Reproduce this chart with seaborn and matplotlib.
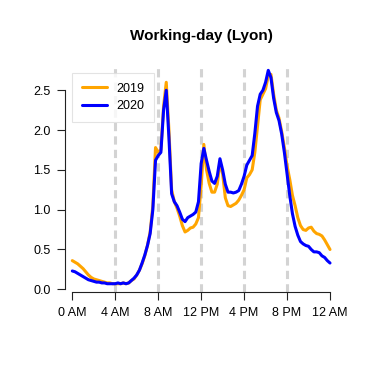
# Import Libraries

import numpy as np
import pandas as pd
import matplotlib
matplotlib.use("Agg")
import matplotlib.pyplot as plt
import seaborn as sns


# Data (15-minute steps)

hours = np.arange(0, 24.01, 0.25)

values_2019 = [
    0.36, 0.34, 0.32, 0.29, 0.26, 0.22, 0.18, 0.15,
    0.13, 0.12, 0.11, 0.10, 0.09, 0.08, 0.08, 0.07,
    0.07, 0.07, 0.07, 0.08, 0.07, 0.08, 0.11, 0.13,
    0.18, 0.24, 0.32, 0.42, 0.55, 0.72, 1.05, 1.78,
    1.72, 1.75, 2.30, 2.60, 2.00, 1.25, 1.10, 1.02,
    0.92, 0.80, 0.72, 0.74, 0.77, 0.78, 0.82, 0.90,
    1.30, 1.82, 1.50, 1.33, 1.22, 1.22, 1.32, 1.60,
    1.45, 1.15, 1.05, 1.04, 1.06, 1.08, 1.12, 1.18,
    1.25, 1.40, 1.44, 1.50, 1.72, 2.05, 2.38, 2.45,
    2.52, 2.68, 2.70, 2.45, 2.25, 2.15, 1.98, 1.78,
    1.55, 1.38, 1.18, 1.05, 0.90, 0.80, 0.75, 0.74,
    0.77, 0.78, 0.73, 0.70, 0.69, 0.67, 0.62, 0.56,
    0.50,
]

values_2020 = [
    0.23, 0.22, 0.20, 0.18, 0.16, 0.14, 0.12, 0.11,
    0.10, 0.09, 0.09, 0.08, 0.08, 0.07, 0.07, 0.07,
    0.07, 0.08, 0.07, 0.08, 0.07, 0.08, 0.11, 0.14,
    0.18, 0.24, 0.33, 0.43, 0.55, 0.70, 1.00, 1.62,
    1.68, 1.72, 2.25, 2.50, 1.90, 1.20, 1.10, 1.05,
    0.97, 0.88, 0.85, 0.90, 0.92, 0.94, 0.97, 1.10,
    1.58, 1.77, 1.62, 1.48, 1.36, 1.33, 1.42, 1.64,
    1.50, 1.32, 1.22, 1.22, 1.21, 1.22, 1.24, 1.32,
    1.42, 1.56, 1.62, 1.68, 1.96, 2.30, 2.45, 2.50,
    2.60, 2.75, 2.66, 2.40, 2.22, 2.12, 1.95, 1.72,
    1.45, 1.18, 0.95, 0.79, 0.68, 0.60, 0.57, 0.55,
    0.54, 0.50, 0.47, 0.47, 0.46, 0.42, 0.40, 0.36,
    0.33,
]

years = ["2019", "2020"]
colors = ["#FFA500", "#0000FF"]

x_ticks = [0, 4, 8, 12, 16, 20, 24]
x_labels = ["0 AM", "4 AM", "8 AM", "12 PM", "4 PM", "8 PM", "12 AM"]
y_ticks = [0.0, 0.5, 1.0, 1.5, 2.0, 2.5]
day_marks = [4, 8, 12, 16, 20]


# Long format table for seaborn

df = pd.concat([
    pd.DataFrame({"hour": hours, "value": values_2019, "year": "2019"}),
    pd.DataFrame({"hour": hours, "value": values_2020, "year": "2020"}),
])


# Plot

sns.set_style("white")
plt.rcParams["font.family"] = ["Liberation Sans", "DejaVu Sans"]
plt.rcParams["text.color"] = "black"
plt.rcParams["xtick.color"] = "black"
plt.rcParams["ytick.color"] = "black"

fig = plt.figure(figsize=(3.74, 3.74), dpi=100)
ax = fig.add_axes([0.1738, 0.2184, 0.7281, 0.6105])

for x in day_marks:
    ax.axvline(x, color="#D3D3D3", linewidth=2.2,
               linestyle=(0, (2.7, 1.7)), zorder=0)

sns.lineplot(data=df, x="hour", y="value", hue="year",
             hue_order=years, palette=colors, linewidth=2.2,
             ax=ax, zorder=2)

ax.set_xlim(-0.68, 24.68)
ax.set_ylim(-0.038, 2.83)

ax.set_xticks(x_ticks)
ax.set_xticklabels(x_labels)
ax.set_yticks(y_ticks)
ax.set_yticklabels([f"{v:.1f}" for v in y_ticks])
ax.set_xlabel("")
ax.set_ylabel("")

for side in ["top", "right"]:
    ax.spines[side].set_visible(False)
ax.spines["left"].set_bounds(0, 2.5)
ax.spines["bottom"].set_bounds(0, 24)
for side in ["left", "bottom"]:
    ax.spines[side].set_color("#222222")
    ax.spines[side].set_linewidth(0.8)

ax.tick_params(axis="both", direction="out", length=5.5, width=0.8,
               color="#222222", labelcolor="black", labelsize=9, pad=5,
               left=True, bottom=True)

ax.set_title("Working-day (Lyon)", fontsize=11, fontweight="bold",
             color="black", pad=17)

leg = ax.legend(loc="upper left", bbox_to_anchor=(0.027, 0.959),
                borderaxespad=0, fontsize=9, frameon=True, fancybox=False,
                handlelength=2.0, handletextpad=0.8, borderpad=0.75,
                labelspacing=0.45)
leg.get_frame().set_edgecolor("#DDDDDD")
leg.get_frame().set_linewidth(0.8)
for line in leg.get_lines():
    line.set_linewidth(2.2)

plt.savefig("out.png", dpi=100)
